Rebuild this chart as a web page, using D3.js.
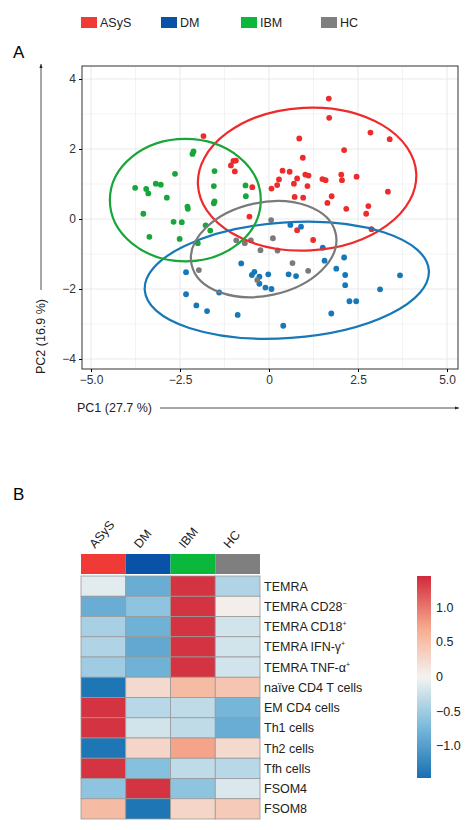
<!DOCTYPE html>
<meta charset="UTF-8">
<style>
body { margin: 0; background: #fff; }
text { font-family: "Liberation Sans", Arial, sans-serif; }
</style>
<svg width="474" height="830"></svg>
<script src="https://d3js.org/d3.v7.min.js"></script>
<script>

var groups = ["ASyS", "DM", "IBM", "HC"];
var groupColors = ["#f03a36", "#0a52a8", "#0cb83c", "#7f7f7f"];
var pointColors = ["#ee2b2b", "#1678b8", "#17a63a", "#7a7a7a"];

// PCA scores [PC1, PC2]
var asysPts = [[1.68,3.44],[1.69,2.89],[2.85,2.47],[3.39,2.28],[-1.84,2.37],[0.85,2.30],[2.11,1.97],[0.95,1.75],
  [-0.93,1.67],[-1.0,1.66],[-1.07,1.53],[-0.96,1.36],[0.38,1.38],[0.58,1.35],[0.28,1.13],[0.79,1.16],[1.02,1.27],
  [1.11,1.24],[1.5,1.14],[1.59,1.11],[2.03,1.27],[2.05,1.11],[2.46,1.21],[-0.47,0.91],[0.07,0.87],[0.23,0.97],
  [0.70,1.01],[1.08,0.94],[0.72,0.63],[0.96,0.61],[1.76,0.65],[3.34,0.78],[1.64,0.46],[2.17,0.29],[2.79,0.37],
  [2.73,0.15],[-0.55,0.07],[2.88,-0.29],[0.79,-0.32],[1.24,-0.60]];
var dmPts = [[-2.33,-1.52],[-2.33,-2.15],[-2.04,-2.47],[-1.74,-2.63],[-1.40,-2.10],[-0.88,-2.74],[-0.78,-1.27],
  [-0.48,-1.60],[-0.41,-1.51],[-0.27,-1.65],[-0.27,-1.85],[-0.10,-1.96],[-0.02,-1.58],[0.07,-2.0],[0.55,-1.58],
  [0.76,-1.63],[0.60,-0.17],[0.90,-0.22],[0.40,-3.05],[1.51,-0.82],[1.56,-1.19],[1.89,-1.42],[2.11,-1.10],
  [2.14,-1.60],[2.14,-1.89],[2.26,-2.35],[2.45,-2.35],[1.75,-2.70],[3.12,-2.01],[3.68,-1.61]];
var ibmPts = [[-3.76,0.89],[-3.45,0.86],[-3.39,0.73],[-3.18,1.01],[-3.04,0.98],[-2.64,1.29],[-2.87,0.61],
  [-3.53,0.15],[-3.36,-0.51],[-2.68,-0.08],[-2.45,-0.09],[-2.51,-0.57],[-2.29,0.35],[-2.28,0.29],[-2.15,1.86],
  [-2.12,1.93],[-1.53,1.37],[-1.55,0.94],[-1.53,0.50],[-1.55,0.45],[-1.78,-0.18],[-1.65,-0.33],[-0.66,0.96],
  [-0.65,0.65],[-2.0,-0.69]];
var hcPts = [[0.06,-0.03],[-0.92,-0.61],[-0.68,-0.69],[-0.51,-0.61],[0.11,-0.55],[-0.24,-0.89],[0.24,-0.90],
  [0.66,-1.26],[1.10,-1.48],[-0.33,-1.74],[-1.97,-1.46]];

// ellipses: [cx, cy, rx, ry, tilt degrees on screen]
var ellipses = [[1.07,1.14,3.07,2.04,-3],[0.5,-1.75,4.0,1.65,-4],[-2.35,0.54,2.12,1.75,0],[-0.15,-0.86,2.07,1.33,-12]];

var xTicks = [-5, -2.5, 0, 2.5, 5];
var yTicks = [-4, -2, 0, 2, 4];

var markers = ["TEMRA", "TEMRA CD28", "TEMRA CD18", "TEMRA IFN-γ", "TEMRA TNF-α", "naïve CD4 T cells",
  "EM CD4 cells", "Th1 cells", "Th2 cells", "Tfh cells", "FSOM4", "FSOM8"];
var markerSup = ["", "−", "+", "+", "+", "", "", "", "", "", "", ""];
var heatAsys = [-0.1, -0.85, -0.45, -0.4, -0.5, -1.4, 1.4, 1.4, -1.4, 1.4, -0.6, 0.55];
var heatDm   = [-0.85, -0.6, -0.8, -0.9, -0.8, 0.25, -0.35, -0.2, 0.3, -0.65, 1.4, -1.4];
var heatIbm  = [1.4, 1.4, 1.4, 1.4, 1.4, 0.55, -0.3, -0.3, 0.75, -0.3, -0.6, 0.3];
var heatHc   = [-0.4, 0.05, -0.2, -0.2, -0.2, 0.45, -0.75, -0.85, 0.25, -0.35, -0.15, 0.4];
var legendTicks = [1.0, 0.5, 0, -0.5, -1.0];

var svg = d3.select("svg");

// legend at top
var leg = svg.append("g");
groups.forEach(function(g, i) {
  leg.append("rect").attr("x", 81 + i * 80).attr("y", 17).attr("width", 16).attr("height", 11).attr("fill", groupColors[i]);
  leg.append("text").attr("x", 100 + i * 80).attr("y", 27).attr("font-size", 12.5).attr("fill", "#222").text(g);
});

svg.append("text").attr("x", 13).attr("y", 58).attr("font-size", 17).text("A");
svg.append("text").attr("x", 13).attr("y", 500).attr("font-size", 17).text("B");

// PCA panel
var x = d3.scaleLinear().domain([-5, 5]).range([91, 447]);
var y = d3.scaleLinear().domain([-4, 4]).range([359, 79]);
var px0 = 82, px1 = 458, py0 = 66, py1 = 369;

var grid = svg.append("g");
d3.range(-5, 5.01, 1.25).forEach(function(v) {
  grid.append("line").attr("x1", x(v)).attr("x2", x(v)).attr("y1", py0).attr("y2", py1)
    .attr("stroke", "#e6e6e6").attr("stroke-width", Math.abs(v % 2.5) < 0.01 ? 0.9 : 0.5);
});
d3.range(-4, 4.01, 1).forEach(function(v) {
  grid.append("line").attr("x1", px0).attr("x2", px1).attr("y1", y(v)).attr("y2", y(v))
    .attr("stroke", "#e6e6e6").attr("stroke-width", v % 2 === 0 ? 0.9 : 0.5);
});

var sets = [asysPts, dmPts, ibmPts, hcPts];
sets.forEach(function(pts, i) {
  svg.append("g").selectAll("circle").data(pts).join("circle")
    .attr("cx", function(d) { return x(d[0]); })
    .attr("cy", function(d) { return y(d[1]); })
    .attr("r", 2.9).attr("fill", pointColors[i]);
});
sets.forEach(function(pts, i) {
  var e = ellipses[i];
  svg.append("ellipse")
    .attr("cx", x(e[0])).attr("cy", y(e[1]))
    .attr("rx", x(e[2]) - x(0)).attr("ry", y(0) - y(e[3]))
    .attr("transform", "rotate(" + e[4] + "," + x(e[0]) + "," + y(e[1]) + ")")
    .attr("fill", "none").attr("stroke", pointColors[i]).attr("stroke-width", 2.2);
});

svg.append("rect").attr("x", px0).attr("y", py0).attr("width", px1 - px0).attr("height", py1 - py0)
  .attr("fill", "none").attr("stroke", "#333").attr("stroke-width", 1);

svg.append("g").attr("transform", "translate(0," + py1 + ")")
  .call(d3.axisBottom(x).tickValues(xTicks).tickSize(3).tickFormat(function(d) { return d === 0 ? "0" : d3.format(".1f")(d).replace("-", "−"); }))
  .call(function(g) { g.select(".domain").remove(); g.selectAll("text").attr("font-size", 12).attr("fill", "#333"); });
svg.append("g").attr("transform", "translate(" + px0 + ",0)")
  .call(d3.axisLeft(y).tickValues(yTicks).tickSize(3).tickFormat(function(d) { return String(d).replace("-", "−"); }))
  .call(function(g) { g.select(".domain").remove(); g.selectAll("text").attr("font-size", 12).attr("fill", "#333"); });

svg.append("defs").append("marker").attr("id", "arr").attr("viewBox", "0 0 10 10").attr("refX", 10).attr("refY", 5)
  .attr("markerWidth", 5).attr("markerHeight", 5).attr("orient", "auto")
  .append("path").attr("d", "M0,1L10,5L0,9z").attr("fill", "#222");

svg.append("text").attr("x", 77).attr("y", 412).attr("font-size", 12.5).attr("fill", "#222").text("PC1 (27.7 %)");
svg.append("line").attr("x1", 160).attr("x2", 459).attr("y1", 408).attr("y2", 408)
  .attr("stroke", "#222").attr("stroke-width", 0.8).attr("marker-end", "url(#arr)");
svg.append("text").attr("transform", "translate(45,374) rotate(-90)").attr("font-size", 12.5).attr("fill", "#222").text("PC2 (16.9 %)");
svg.append("line").attr("x1", 41).attr("x2", 41).attr("y1", 290).attr("y2", 64)
  .attr("stroke", "#222").attr("stroke-width", 0.8).attr("marker-end", "url(#arr)");

// heatmap
var heatCols = [heatAsys, heatDm, heatIbm, heatHc];
var hx = d3.scaleBand().domain(groups).range([81, 260]);
var hy = d3.scaleBand().domain(markers).range([576, 819]);
var color = d3.scaleLinear().domain([-1.46, -0.7, 0, 0.7, 1.46])
  .range(["#1770b2", "#7dbcdc", "#f3f3f1", "#f7ac8e", "#d1293c"]).clamp(true);

var hm = svg.append("g");
groups.forEach(function(g, i) {
  hm.append("rect").attr("x", hx(g)).attr("y", 554).attr("width", hx.bandwidth()).attr("height", 20).attr("fill", groupColors[i]);
  hm.append("text").attr("transform", "translate(" + (hx(g) + 14) + ",549) rotate(-50)")
    .attr("font-size", 12.5).attr("fill", "#222").text(g);
  hm.selectAll(null).data(heatCols[i]).join("rect")
    .attr("x", hx(g)).attr("y", function(d, j) { return hy(markers[j]); })
    .attr("width", hx.bandwidth()).attr("height", hy.bandwidth())
    .attr("fill", function(d) { return color(d); }).attr("stroke", "#999").attr("stroke-width", 0.8);
});
markers.forEach(function(m, j) {
  var t = hm.append("text").attr("x", 264).attr("y", hy(m) + hy.bandwidth() / 2 + 4.5)
    .attr("font-size", 12.5).attr("fill", "#222").text(m);
  if (markerSup[j]) t.append("tspan").attr("dy", -5).attr("font-size", 7).text(markerSup[j]);
});

// colour bar
var cb = d3.scaleLinear().domain([-1.46, 1.46]).range([778, 576]);
var grad = svg.select("defs").append("linearGradient").attr("id", "cbg").attr("x1", 0).attr("x2", 0).attr("y1", 1).attr("y2", 0);
d3.range(0, 1.001, 0.05).forEach(function(t) {
  grad.append("stop").attr("offset", t).attr("stop-color", color(-1.46 + t * 2.92));
});
svg.append("rect").attr("x", 417).attr("y", 576).attr("width", 14).attr("height", 202).attr("fill", "url(#cbg)");
legendTicks.forEach(function(v) {
  svg.append("text").attr("x", 436).attr("y", cb(v) + 4).attr("font-size", 12.5).attr("fill", "#222")
    .text(v === 0 ? "0" : d3.format(".1f")(v));
});

</script>
